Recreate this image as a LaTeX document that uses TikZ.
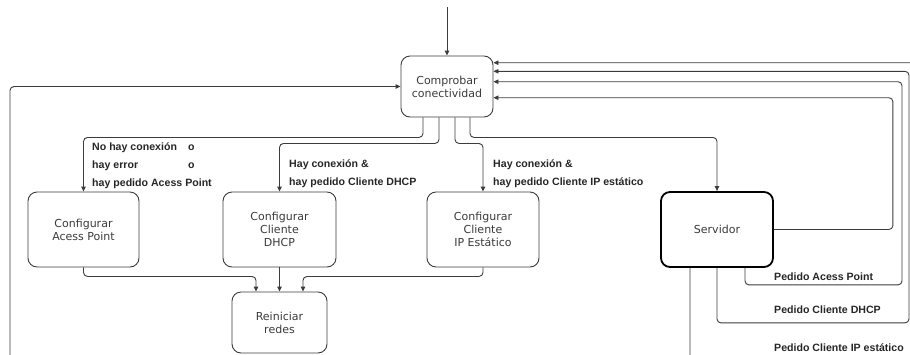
\documentclass[tikz,border=0pt]{standalone}
\usepackage{fontspec}
\setmainfont{DejaVu Sans}
\newfontfamily\etiqfont{Liberation Sans}
\usetikzlibrary{arrows.meta,calc}
\definecolor{linea}{HTML}{3C3C3C}
\definecolor{texto}{HTML}{3A3A3A}

\begin{document}
\begin{tikzpicture}[x=1pt,y=-1pt,
  caja/.style={draw=linea,line width=0.9pt,rounded corners=9pt,minimum width=112pt,minimum height=75pt,
    inner sep=2pt,align=center,text=texto,font=\fontsize{11}{13}\selectfont},
  conn/.style={draw=linea,line width=0.9pt,rounded corners=4pt,-{Triangle[length=5pt,width=4.5pt]}},
  etiq/.style={font=\etiqfont\bfseries\fontsize{10.6}{18}\selectfont,text=black!85,
    align=left,inner sep=0pt,anchor=west}]
  \useasboundingbox (0,0) rectangle (910,354);
  \clip (0,0) rectangle (910,354);
  % nodos
  \node[caja,minimum width=92pt,minimum height=61pt] (comp) at (447,86.5) {Comprobar\\conectividad};
  \node[caja,minimum width=111pt] (ap) at (83.5,229.5) {Configurar\\Acess Point};
  \node[caja,minimum width=113pt] (dhcp) at (279.5,229.5) {Configurar\\Cliente\\DHCP};
  \node[caja] (ip) at (483,229.5) {Configurar\\Cliente\\IP Estático};
  \node[caja,draw=black,line width=1.8pt] (serv) at (717,229.5) {Servidor};
  \node[caja,minimum width=95pt,minimum height=61pt] (rein) at (279.5,322.5) {Reiniciar\\redes};
  \coordinate (inicio) at (447,7);
  \coordinate (retorno) at (10,380);
  % entradas
  \draw[conn] (inicio) -- (comp);
  \draw[conn] (retorno) |- (comp);
  % salidas de comprobar
  \draw[conn] ($(comp.south)+(-24,0)$) -- ++(0,20) -| (ap);
  \draw[conn] ($(comp.south)+(-8,0)$) -- ++(0,26) -| (dhcp);
  \draw[conn] ($(comp.south)+(8,0)$) -- ++(0,26) -| (ip);
  \draw[conn] ($(comp.south)+(23,0)$) -- ++(0,20) -| (serv);
  \node[etiq] (lap) at (92,166) {\makebox[96pt][l]{No hay conexión}o\\\makebox[96pt][l]{hay error}o\\hay pedido Acess Point};
  \node[etiq] (ldhcp) at (289,173.4) {Hay conexión \&\\hay pedido Cliente DHCP};
  \node[etiq] (lip) at (493,173.4) {Hay conexión \&\\hay pedido Cliente IP estático};
  % hacia reiniciar
  \draw[conn] (ap.south) -- ++(0,9) -| ($(rein.north)+(-23.5,0)$);
  \draw[conn] (dhcp) -- (rein);
  \draw[conn] (ip.south) -- ++(0,9) -| ($(rein.north)+(23.5,0)$);
  % retorno del servidor
  \draw[conn] (serv.east) -- ++(119,0) |- ($(comp.east)+(0,11.2)$);
  \draw[conn] ($(serv.south)+(28,0)$) -- ++(0,17) -- ++(157,0) |- ($(comp.east)+(0,-4.8)$);
  \draw[conn] (serv.south) -- ++(0,55) -- ++(192,0) |- ($(comp.east)+(0,-15.2)$);
  \draw[conn] ($(serv.south)+(-27,0)$) -- ++(0,103) -- ++(240,0) |- ($(comp.east)+(0,-23.8)$);
  \node[etiq] (lsap) at (774,276.7) {Pedido Acess Point};
  \node[etiq] (lsdhcp) at (774,310) {Pedido Cliente DHCP};
  \node[etiq] (lsip) at (774,348) {Pedido Cliente IP estático};
\end{tikzpicture}
\end{document}
